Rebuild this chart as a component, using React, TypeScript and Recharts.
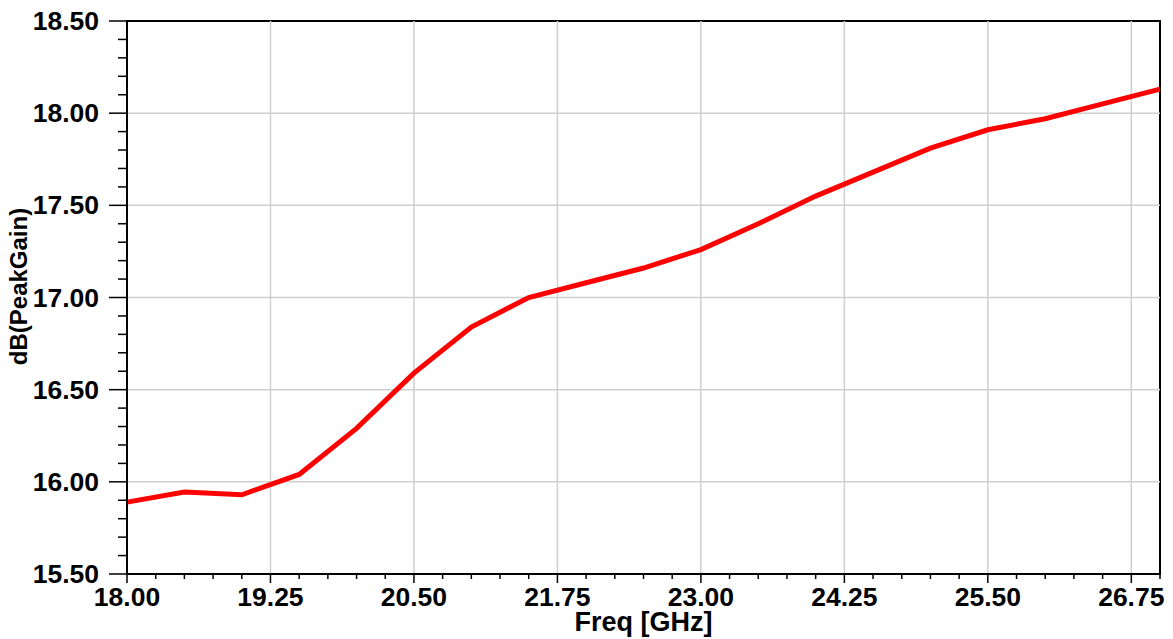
import {
    LineChart,
    Line,
    XAxis,
    YAxis,
    ReferenceLine,
    ReferenceArea,
    Label,
} from "recharts";

// Frequency sweep in GHz
const freqs = [
    18, 18.5, 19, 19.5, 20, 20.5, 21, 21.5, 22, 22.5, 23, 23.5, 24, 24.5, 25,
    25.5, 26, 26.5, 27,
];
// dB(PeakGain)
const peakGain = [
    15.89, 15.945, 15.93, 16.04, 16.29, 16.59, 16.84, 17.0, 17.08, 17.16, 17.26,
    17.4, 17.55, 17.68, 17.81, 17.91, 17.97, 18.05, 18.13,
];

const xMajorTicks = [18, 19.25, 20.5, 21.75, 23, 24.25, 25.5, 26.75];
const xMinorTicks = [
    18.25, 18.5, 18.75, 19, 19.5, 19.75, 20, 20.25, 20.75, 21, 21.25, 21.5, 22,
    22.25, 22.5, 22.75, 23.25, 23.5, 23.75, 24, 24.5, 24.75, 25, 25.25, 25.75,
    26, 26.25, 26.5, 27,
];
const yMajorTicks = [15.5, 16, 16.5, 17, 17.5, 18, 18.5];
const yMinorTicks = [
    15.6, 15.7, 15.8, 15.9, 16.1, 16.2, 16.3, 16.4, 16.6, 16.7, 16.8, 16.9,
    17.1, 17.2, 17.3, 17.4, 17.6, 17.7, 17.8, 17.9, 18.1, 18.2, 18.3, 18.4,
];

const chartData = freqs.map((f, i) => ({ freq: f, gain: peakGain[i] }));

const FONT = '"Liberation Sans", Arial, sans-serif';

const isMajor = (list: number[], v: number) =>
    list.some((m) => Math.abs(m - v) < 1e-6);

const XTick = ({ x, y, payload }: any) => {
    const major = isMajor(xMajorTicks, payload.value);
    return (
        <g>
            <line
                x1={x}
                x2={x}
                y1={y}
                y2={y + (major ? 9 : 5)}
                stroke="#000"
                strokeWidth={1.5}
            />
            {major && (
                <text
                    x={x}
                    y={y + 32}
                    textAnchor="middle"
                    fontFamily={FONT}
                    fontWeight="bold"
                    fontSize={26.5}
                    fill="#000"
                >
                    {payload.value.toFixed(2)}
                </text>
            )}
        </g>
    );
};

const YTick = ({ x, y, payload }: any) => {
    const major = isMajor(yMajorTicks, payload.value);
    return (
        <g>
            <line
                x1={x}
                x2={x - (major ? 18 : 9)}
                y1={y}
                y2={y}
                stroke="#000"
                strokeWidth={1.5}
            />
            {major && (
                <text
                    x={x - 28}
                    y={y + 9}
                    textAnchor="end"
                    fontFamily={FONT}
                    fontWeight="bold"
                    fontSize={26.5}
                    fill="#000"
                >
                    {payload.value.toFixed(2)}
                </text>
            )}
        </g>
    );
};

function App() {
    const allX = [...xMajorTicks, ...xMinorTicks].sort((a, b) => a - b);
    const allY = [...yMajorTicks, ...yMinorTicks].sort((a, b) => a - b);

    return (
        <div style={{ position: "absolute", left: 0, top: 0, background: "#fff" }}>
            <LineChart
                width={1173}
                height={639}
                data={chartData}
                margin={{ top: 21, right: 13, bottom: 0, left: 0 }}
            >
                <XAxis
                    dataKey="freq"
                    type="number"
                    domain={[18, 27]}
                    ticks={allX}
                    interval={0}
                    tickSize={0}
                    tickMargin={0}
                    tickLine={false}
                    tick={<XTick />}
                    height={65}
                    axisLine={{ stroke: "#000", strokeWidth: 2 }}
                >
                    <Label
                        content={({ viewBox }: any) => (
                            <text
                                x={viewBox.x + viewBox.width / 2}
                                y={viewBox.y + 57}
                                textAnchor="middle"
                                fontFamily={FONT}
                                fontWeight="bold"
                                fontSize={27}
                                fill="#000"
                            >
                                Freq [GHz]
                            </text>
                        )}
                    />
                </XAxis>
                <YAxis
                    type="number"
                    domain={[15.5, 18.5]}
                    ticks={allY}
                    interval={0}
                    tickSize={0}
                    tickMargin={0}
                    tickLine={false}
                    tick={<YTick />}
                    width={127}
                    axisLine={{ stroke: "#000", strokeWidth: 2 }}
                >
                    <Label
                        content={({ viewBox }: any) => {
                            const cx = viewBox.x + 18;
                            const cy = viewBox.y + viewBox.height / 2 - 11;
                            return (
                                <text
                                    x={cx}
                                    y={cy}
                                    transform={`rotate(-90 ${cx} ${cy})`}
                                    textAnchor="middle"
                                    dominantBaseline="central"
                                    fontFamily={FONT}
                                    fontWeight="bold"
                                    fontSize={24}
                                    fill="#000"
                                >
                                    dB(PeakGain)
                                </text>
                            );
                        }}
                    />
                </YAxis>
                {yMajorTicks.slice(1, -1).map((v) => (
                    <ReferenceLine
                        key={`gy-${v}`}
                        y={v}
                        stroke="#cfcfcf"
                        strokeWidth={1.5}
                    />
                ))}
                {xMajorTicks.slice(1).map((v) => (
                    <ReferenceLine
                        key={`gx-${v}`}
                        x={v}
                        stroke="#cfcfcf"
                        strokeWidth={1.5}
                    />
                ))}
                <ReferenceArea
                    x1={18}
                    x2={27}
                    y1={15.5}
                    y2={18.5}
                    fill="none"
                    fillOpacity={0}
                    stroke="#000"
                    strokeWidth={2}
                />
                <Line
                    type="linear"
                    dataKey="gain"
                    stroke="#ff0000"
                    strokeWidth={5}
                    dot={false}
                    isAnimationActive={false}
                />
            </LineChart>
        </div>
    );
}

export default App;
